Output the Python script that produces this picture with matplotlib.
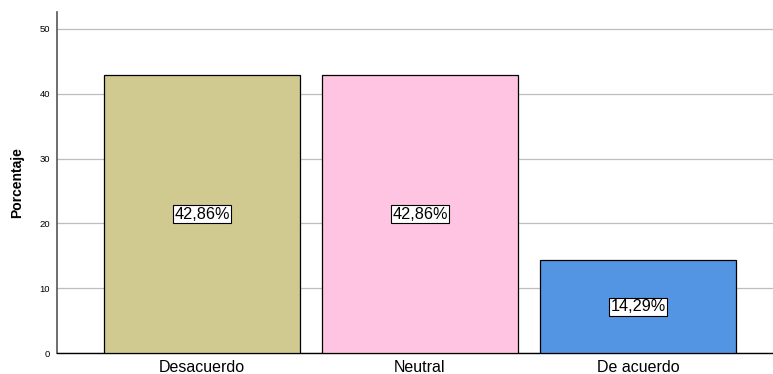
import matplotlib.pyplot as plt

plt.rcParams["font.family"] = ["Liberation Sans", "DejaVu Sans"]

categories = ["Desacuerdo", "Neutral", "De acuerdo"]
percentages = [42.86, 42.86, 14.29]
labels = ["42,86%", "42,86%", "14,29%"]
colors = ["#D0CA90", "#FFC4E2", "#5495E3"]

fig = plt.figure(figsize=(7.73, 3.74), dpi=100)
ax = fig.add_axes([0.0737, 0.0561, 0.9263, 0.9119])

x = range(len(categories))
ax.bar(x, percentages, width=0.9, color=colors, edgecolor="black", linewidth=0.9, zorder=3)

for xi, v, lab in zip(x, percentages, labels):
    ax.text(xi, v / 2, lab, ha="center", va="center", fontsize=11.7, zorder=4,
            bbox=dict(boxstyle="square,pad=0.1", facecolor="white", edgecolor="black", linewidth=0.8))

ax.set_ylim(0, 52.6)
ax.set_xlim(-0.665, 2.619)
ax.set_yticks([0, 10, 20, 30, 40, 50])
ax.set_xticks(list(x))
ax.set_xticklabels(categories, fontsize=11.5)
ax.tick_params(axis="y", labelsize=6.8, length=0, pad=5)
ax.tick_params(axis="x", length=0, pad=5)
ax.yaxis.grid(True, color="#BDBDBD", linewidth=0.9, zorder=0)
ax.set_axisbelow(True)

ax.spines["top"].set_visible(False)
ax.spines["right"].set_visible(False)
ax.spines["left"].set_color("#555555")
ax.spines["left"].set_linewidth(1.2)
ax.spines["bottom"].set_color("black")
ax.spines["bottom"].set_linewidth(1.0)

ax.set_ylabel("Porcentaje", fontsize=10, fontweight="bold", labelpad=11)

fig.savefig("out.png", dpi=100)
